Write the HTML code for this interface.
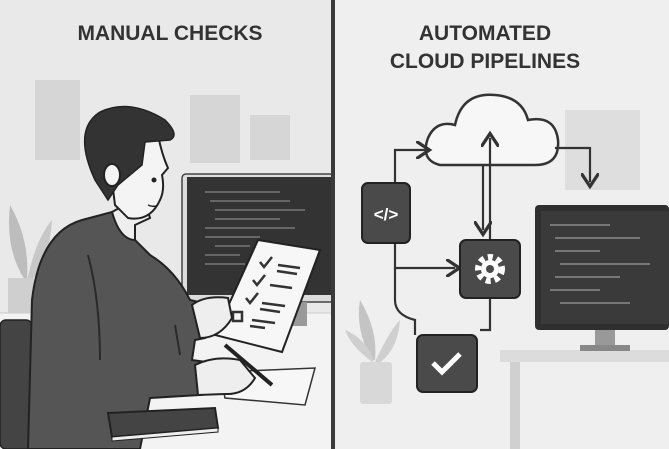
<!DOCTYPE html>
<html><head><meta charset="utf-8"><style>
html,body{margin:0;padding:0;background:#eee;}
svg{display:block}
text{font-family:"Liberation Sans",sans-serif;font-weight:bold;fill:#333;}
</style></head><body>
<svg width="669" height="449" viewBox="0 0 669 449">
<defs>
<marker id="ah" markerWidth="8" markerHeight="8" refX="4" refY="4" orient="auto"><path d="M0,0 L6,4 L0,8" fill="none" stroke="#333" stroke-width="1.5"/></marker>
</defs>
<!-- left panel -->
<rect x="0" y="0" width="331" height="449" fill="#e9e9e9"/>
<rect x="35" y="80" width="45" height="80" fill="#d6d6d6"/>
<rect x="190" y="95" width="50" height="68" fill="#d6d6d6"/>
<rect x="250" y="115" width="40" height="45" fill="#d6d6d6"/>
<text x="170" y="40" font-size="21" text-anchor="middle">MANUAL CHECKS</text>
<!-- plant left -->
<path d="M25,280 Q5,250 10,205 Q30,240 27,280Z" fill="#bdbdbd"/>
<path d="M27,282 Q35,240 52,220 Q50,260 29,284Z" fill="#c8c8c8"/>
<rect x="8" y="278" width="26" height="40" fill="#cfcfcf"/>
<!-- desk surface -->
<path d="M0,313 L331,313 L331,449 L0,449Z" fill="#f3f3f3"/>
<line x1="0" y1="313" x2="331" y2="313" stroke="#ccc" stroke-width="1"/>
<!-- monitor left -->
<rect x="182" y="174" width="152" height="128" rx="4" fill="#dcdcdc" stroke="#444" stroke-width="1.5"/>
<rect x="187" y="177" width="147" height="118" fill="#333"/>
<g stroke="#666" stroke-width="2">
<line x1="205" y1="192" x2="280" y2="192"/><line x1="210" y1="201" x2="290" y2="201"/>
<line x1="215" y1="210" x2="305" y2="210"/><line x1="215" y1="219" x2="280" y2="219"/>
<line x1="205" y1="228" x2="295" y2="228"/><line x1="205" y1="237" x2="260" y2="237"/>
<line x1="215" y1="246" x2="250" y2="246"/><line x1="205" y1="255" x2="240" y2="255"/>
<line x1="205" y1="264" x2="245" y2="264"/>
</g>
<rect x="285" y="302" width="22" height="24" fill="#999"/>
<!-- chair -->
<rect x="0" y="320" width="32" height="129" rx="6" fill="#444" stroke="#222" stroke-width="1.5"/>
<!-- person body -->
<path d="M28,449 L32,300 Q40,232 82,220 L112,212 L135,240 L150,255 Q175,270 190,300 L212,305 L222,330 L205,338 L195,340 L192,360 L228,365 L240,390 L200,395 L150,398 L140,449Z" fill="#555" stroke="#222" stroke-width="2"/>
<path d="M88,255 Q100,300 100,360" stroke="#2a2a2a" stroke-width="2" fill="none"/>
<path d="M175,325 L180,355" stroke="#2a2a2a" stroke-width="2" fill="none"/>
<!-- head -->
<path d="M112,212 Q120,240 135,240 L135,225 L150,218 L143,195Z" fill="#eee" stroke="#222" stroke-width="2"/>
<path d="M110,165 Q108,128 135,130 L158,135 Q162,155 168,168 L162,175 Q165,190 160,200 Q150,222 128,218 L115,205 Z" fill="#f4f4f4" stroke="#222" stroke-width="2"/>
<path d="M95,180 Q72,130 100,112 Q130,98 165,120 Q180,135 170,140 L145,142 L142,165 L118,185 L108,200 Z" fill="#333" stroke="#222" stroke-width="1.5"/>
<ellipse cx="112" cy="175" rx="8" ry="11" fill="#f4f4f4" stroke="#222" stroke-width="2"/>
<circle cx="154" cy="180" r="2.5" fill="#222"/>
<path d="M148,205 Q152,207 156,206" stroke="#222" stroke-width="1.5" fill="none"/>
<!-- paper -->
<path d="M258,240 L320,250 L282,352 L215,335Z" fill="#f7f7f7" stroke="#222" stroke-width="2"/>
<g stroke="#333" stroke-width="2.5" fill="none">
<path d="M260,262 l4,5 l8,-10"/><line x1="278" y1="265" x2="300" y2="268"/><line x1="277" y1="271" x2="297" y2="274"/>
<path d="M253,280 l4,5 l8,-10"/><line x1="270" y1="285" x2="292" y2="288"/>
<path d="M246,298 l4,5 l8,-10"/><line x1="262" y1="303" x2="285" y2="306"/><line x1="260" y1="309" x2="280" y2="312"/>
<rect x="233" y="312" width="9" height="9"/><line x1="252" y1="320" x2="275" y2="323"/><line x1="250" y1="326" x2="265" y2="328"/>
</g>
<!-- hands -->
<path d="M192,305 Q205,295 228,298 L232,318 Q220,338 200,338Z" fill="#eee" stroke="#222" stroke-width="2"/>
<path d="M220,372 L315,368 L305,405 L225,398Z" fill="#f7f7f7" stroke="#333" stroke-width="1.5"/>
<line x1="225" y1="345" x2="272" y2="385" stroke="#222" stroke-width="4"/>
<path d="M195,365 Q215,355 240,360 L255,378 Q245,395 225,394 L198,395Z" fill="#eee" stroke="#222" stroke-width="2"/>
<!-- tablet -->
<path d="M108,413 L215,408 L218,428 L112,437Z" fill="#444" stroke="#222" stroke-width="2"/>
<path d="M112,437 L218,428 L218,432 L112,441Z" fill="#eee" stroke="#222" stroke-width="1"/>
<!-- divider -->
<rect x="331" y="0" width="4" height="449" fill="#3a3a3a"/>
<!-- right panel -->
<rect x="335" y="0" width="334" height="449" fill="#efefef"/>
<rect x="565" y="110" width="75" height="80" fill="#dedede"/>
<text x="485" y="40" font-size="21" text-anchor="middle">AUTOMATED</text>
<text x="485" y="68" font-size="21" text-anchor="middle">CLOUD PIPELINES</text>
<!-- cloud -->
<path d="M440,165 Q420,160 428,138 Q436,120 455,125 Q462,92 495,95 Q522,97 528,120 Q555,115 558,140 Q560,165 535,165Z" fill="#f7f7f7" stroke="#333" stroke-width="2.5"/>
<!-- connectors -->
<g stroke="#333" stroke-width="2.2" fill="none">
<path d="M395,183 L395,150 L425,150" marker-end="url(#ah)"/>
<path d="M555,148 L590,148 L590,182" marker-end="url(#ah)"/>
<path d="M490,240 L490,138" marker-end="url(#ah)"/>
<path d="M483,165 L483,230" marker-end="url(#ah)"/>
<path d="M395,243 L395,268 L455,268" marker-end="url(#ah)"/>
<path d="M490,298 L490,330 L480,330"/>
<path d="M395,268 L395,300 Q395,315 415,320 L415,335"/>
</g>
<!-- code box -->
<rect x="362" y="183" width="48" height="60" rx="6" fill="#4a4a4a" stroke="#222" stroke-width="2"/>
<text x="386" y="220" font-size="17" text-anchor="middle" style="fill:#fff">&lt;/&gt;</text>
<!-- gear box -->
<rect x="460" y="240" width="60" height="58" rx="6" fill="#4a4a4a" stroke="#222" stroke-width="2"/>
<circle cx="490" cy="269" r="12" fill="none" stroke="#fff" stroke-width="6" stroke-dasharray="5 4"/>
<circle cx="490" cy="269" r="9" fill="#fff"/><circle cx="490" cy="269" r="4" fill="#4a4a4a"/>
<!-- check box -->
<rect x="417" y="335" width="60" height="57" rx="6" fill="#4a4a4a" stroke="#222" stroke-width="2"/>
<path d="M433,363 l9,9 l18,-18" fill="none" stroke="#fff" stroke-width="5"/>
<!-- plant right -->
<path d="M372,360 Q355,330 360,300 Q378,330 375,360Z" fill="#c4c4c4"/>
<path d="M375,362 Q390,330 400,320 Q398,350 378,364Z" fill="#cfcfcf"/>
<path d="M372,362 Q350,345 345,330 Q365,338 374,360Z" fill="#cfcfcf"/>
<rect x="360" y="362" width="32" height="42" rx="3" fill="#d8d8d8"/>
<!-- right desk -->
<rect x="500" y="350" width="169" height="12" fill="#dcdcdc"/>
<rect x="510" y="362" width="10" height="87" fill="#d0d0d0"/>
<!-- monitor right -->
<rect x="535" y="205" width="134" height="125" rx="4" fill="#2f2f2f"/>
<rect x="541" y="211" width="128" height="113" fill="#3a3a3a"/>
<g stroke="#777" stroke-width="2">
<line x1="550" y1="225" x2="610" y2="225"/><line x1="555" y1="238" x2="640" y2="238"/>
<line x1="555" y1="251" x2="600" y2="251"/><line x1="560" y1="264" x2="650" y2="264"/>
<line x1="555" y1="277" x2="620" y2="277"/><line x1="550" y1="290" x2="600" y2="290"/>
<line x1="560" y1="303" x2="630" y2="303"/>
</g>
<rect x="595" y="330" width="20" height="15" fill="#999"/>
<rect x="580" y="345" width="50" height="6" fill="#888"/>
</svg>
</body></html>
